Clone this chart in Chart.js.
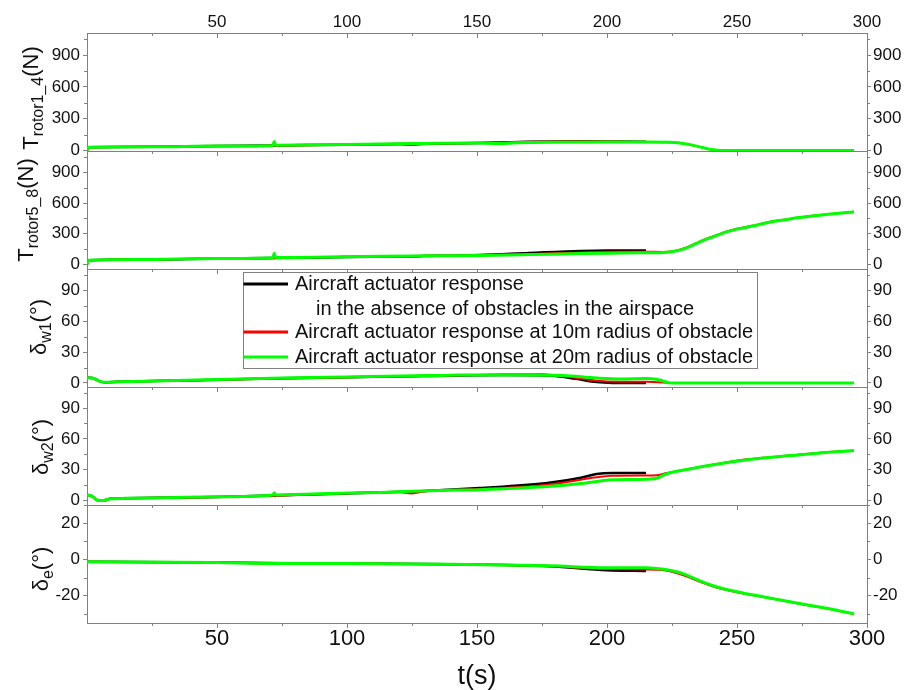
<!DOCTYPE html>
<html><head><meta charset="utf-8">
<script src="https://cdn.jsdelivr.net/npm/chart.js@4.4.1/dist/chart.umd.min.js"></script>
<style>html,body{margin:0;padding:0;background:#fff}canvas{display:block}</style>
</head><body>
<canvas id="c" width="907" height="690"></canvas>
<script>
// ---------- data ----------
const xTicks = [50, 100, 150, 200, 250, 300];
const xMinorTicks = [25, 75, 125, 175, 225, 275];
const rotorTicks = [0, 300, 600, 900];
const rotorMinor = [150, 450, 750, 1050];
const deltaWTicks = [0, 30, 60, 90];
const deltaWMinor = [15, 45, 75, 105];
const deltaETicks = [-20, 0, 20];
const deltaEMinor = [-30, -10, 10, 30];

const seriesLegend = [
  ['Aircraft actuator response', 'in the absence of obstacles in the airspace'],
  ['Aircraft actuator response at 10m radius of obstacle'],
  ['Aircraft actuator response at 20m radius of obstacle']
];

// T rotor1_4 (N)
const rotor14Black = [[0,0],[0.6,30],[10,32],[30,36],[50,42],[72,48],[100,55],[130,64],[150,70],[170,82],[190,86],[205,84],[215,82]];
const rotor14Red = [[0,0],[0.6,30],[10,32],[30,36],[50,40],[62,40],[70,46],[100,54],[120,58],[125,52],[130,62],[150,70],[165,80],[185,85],[200,84],[215,81],[224,77],[228,70],[232,55],[236,32],[239,14],[241.5,4],[244,0],[295,0]];
const rotor14Green = [[0,0],[0.6,30],[10,32],[30,36],[50,42],[71.5,48],[72,85],[72.5,50],[100,56],[113,62],[130,66],[150,70],[158,66],[165,72],[180,77],[200,79],[215,79],[224,77],[228,70],[232,55],[236,32],[239,14],[241.5,4],[244,0],[295,0]];

// T rotor5_8 (N)
const rotor58Black = [[0,0],[0.6,40],[20,47],[50,57],[72,62],[100,72],[130,82],[151,92],[170,112],[190,132],[200,137],[215,137]];
const rotor58Red = [[0,0],[0.6,40],[20,47],[50,56],[65,58],[80,68],[100,74],[125,72],[130,84],[151,88],[170,100],[190,117],[200,123],[215,124],[221,122],[226,132],[230,160],[234,205],[238,250],[241,276],[246,322],[250,348],[256,378],[262,412],[268,437],[274,460],[280,478],[287,497],[295,515]];
const rotor58Green = [[0,0],[0.6,40],[20,47],[50,57],[71.5,65],[72,110],[72.5,68],[100,75],[113,80],[130,84],[151,88],[170,96],[190,106],[205,111],[215,114],[222,117],[226,128],[230,155],[234,200],[238,245],[241,272],[246,318],[250,345],[256,375],[262,410],[268,435],[274,458],[280,476],[287,495],[295,513]];

// delta w1 (deg)
const deltaW1Black = [[0,5],[2,4.8],[5,1.5],[7,0.6],[12,1],[30,2],[50,3],[75,4.5],[100,5.6],[130,6.8],[160,7.6],[178,7.2],[188,4],[196,0.8],[202,0],[215,0]];
const deltaW1Red = [[0,5],[2,4.8],[5,1.5],[7,0.6],[12,1],[30,2],[50,3],[75,4.2],[100,5.6],[130,6.8],[160,8.2],[175,8.5],[185,6],[196,2.2],[205,1.2],[215,1],[222,0.3],[224,0],[295,0]];
const deltaW1Green = [[0,5],[2,4.8],[5,1.5],[7,0.6],[12,1],[30,2],[50,3.2],[75,4.8],[100,5.8],[132,7.1],[143,7.6],[170,7.8],[183,7.1],[196,4.8],[205,3.9],[215,4.3],[219,3.5],[222,1.5],[224.5,0],[295,0]];

// delta w2 (deg)
const deltaW2Black = [[0,5.5],[2,4],[4,0.2],[6,-0.2],[9,1.5],[15,2],[30,2.6],[50,3.3],[75,5],[100,6.8],[130,9.2],[151,12],[177,16.9],[190,22],[196,25.7],[202,26.7],[215,26.7]];
const deltaW2Red = [[0,5.5],[2,4],[4,0.2],[6,-0.2],[9,1.5],[15,2],[30,2.6],[50,3.3],[75,4.8],[100,7],[120,8.2],[125,6.8],[130,8.8],[151,11],[177,15.2],[190,20.2],[196,22.5],[202,24],[215,24.3],[219,24.5],[223,26.7],[228,29],[241,35],[254,40],[267,43],[280,46],[295,48.6]];
const deltaW2Green = [[0,5.5],[2,4],[4,0.2],[6,-0.2],[9,1.5],[15,2],[30,2.6],[50,3.5],[71.5,5.2],[72,7.5],[72.5,5.3],[100,7.2],[113,7.8],[125,8.8],[143,10],[151,10.4],[177,13.5],[190,16.5],[196,18.5],[202,20],[215,20.5],[219,21.5],[223,26],[228,28.9],[241,34.8],[254,39.6],[267,42.8],[280,45.8],[295,48.5]];

// delta e (deg)
const deltaEBlack = [[0,-1.3],[50,-1.7],[100,-2.3],[140,-2.7],[178,-3.8],[200,-5.9],[215,-6.3]];
const deltaERed = [[0,-1.3],[50,-1.7],[72,-2.2],[100,-2.2],[140,-2.6],[178,-3.6],[200,-5.3],[215,-5.5],[222,-6],[226,-7.2],[230,-9],[236,-12.5],[242,-15.4],[250,-18.1],[261,-20.9],[274,-24.4],[287,-27.7],[295,-30.1]];
const deltaEGreen = [[0,-1.3],[50,-1.7],[72,-2.2],[100,-2.2],[140,-2.6],[178,-3.5],[200,-4.5],[215,-4.5],[222,-5.4],[226,-6.5],[230,-8.2],[236,-11.9],[242,-15],[250,-17.8],[261,-20.8],[274,-24.3],[287,-27.6],[295,-30]];

// ---------- styling / layout ----------
const FONT = "'Liberation Sans', Arial, sans-serif";
const GRAY = '#808080';
const seriesColors = ['#000000', '#ff0000', '#00ff00'];
const seriesWidths = [2.5, 2, 3];

const panels = [
  {min: -5, max: 1110, major: rotorTicks, minor: rotorMinor, series: [rotor14Black, rotor14Red, rotor14Green], title: ['T', 'rotor1_4', '(N)'], tx: 37.5, ty: 98},
  {min: -45, max: 1110, major: rotorTicks, minor: rotorMinor, series: [rotor58Black, rotor58Red, rotor58Green], title: ['T', 'rotor5_8', '(N)'], tx: 33, ty: 210},
  {min: -4, max: 111, major: deltaWTicks, minor: deltaWMinor, series: [deltaW1Black, deltaW1Red, deltaW1Green], title: ['\u03b4', 'w1', '(\u00b0)'], tx: 46, ty: 327},
  {min: -4.5, max: 110.5, major: deltaWTicks, minor: deltaWMinor, series: [deltaW2Black, deltaW2Red, deltaW2Green], title: ['\u03b4', 'w2', '(\u00b0)'], tx: 47.5, ty: 447},
  {min: -35, max: 30, major: deltaETicks, minor: deltaEMinor, series: [deltaEBlack, deltaERed, deltaEGreen], title: ['\u03b4', 'e', '(\u00b0)'], tx: 48, ty: 569}
];

const datasets = [];
panels.forEach((p, i) => {
  p.series.forEach((s, k) => {
    datasets.push({
      data: s.map(([x, y]) => ({x, y})),
      yAxisID: 'yL' + (i + 1),
      borderColor: seriesColors[k],
      backgroundColor: seriesColors[k],
      borderWidth: seriesWidths[k],
      pointRadius: 0,
      fill: false,
      cubicInterpolationMode: 'monotone',
      order: 2 - k
    });
  });
});

const scales = {
  x: {
    type: 'linear', position: 'bottom', min: 0, max: 300,
    afterBuildTicks: s => { s.ticks = xTicks.map(v => ({value: v})); },
    grid: {display: false, drawTicks: false, tickLength: 0},
    border: {display: true, color: GRAY, width: 1},
    ticks: {font: {family: FONT, size: 22}, color: '#111', padding: 3, maxRotation: 0, autoSkip: false},
    title: {display: true, text: 't(s)', font: {family: FONT, size: 27, lineHeight: 1}, color: '#111', padding: {top: 0, bottom: 0}},
    afterFit: s => { s.height = 67; }
  },
  x2: {
    type: 'linear', position: 'top', min: 0, max: 300,
    afterBuildTicks: s => { s.ticks = xTicks.map(v => ({value: v})); },
    grid: {display: false, drawTicks: false, tickLength: 0},
    border: {display: true, color: GRAY, width: 1},
    ticks: {font: {family: FONT, size: 17}, color: '#111', padding: 0, maxRotation: 0, autoSkip: false},
    afterFit: s => { s.height = 33; }
  }
};
function yCommon(p) {
  return {
    type: 'linear', min: p.min, max: p.max, stackWeight: 1,
    afterBuildTicks: s => { s.ticks = p.major.map(v => ({value: v})); },
    grid: {display: true, drawOnChartArea: false, drawTicks: true, tickLength: 4, color: GRAY, tickColor: GRAY},
    border: {display: true, color: GRAY, width: 1}
  };
}
// left stack is laid out bottom-up in insertion order, so add it reversed
for (let i = panels.length - 1; i >= 0; i--) {
  scales['yL' + (i + 1)] = Object.assign(yCommon(panels[i]), {
    position: 'left', stack: 'L',
    ticks: {font: {family: FONT, size: 17}, color: '#111', padding: 3, autoSkip: false},
    afterFit: s => { s.width = 87; }
  });
}
panels.forEach((p, i) => {
  scales['yR' + (i + 1)] = Object.assign(yCommon(p), {
    position: 'right', stack: 'R',
    ticks: {font: {family: FONT, size: 17}, color: '#111', padding: 2, autoSkip: false},
    afterFit: s => { s.width = 40; }
  });
});

const decor = {
  id: 'decor',
  afterDraw(chart) {
    const ctx = chart.ctx, ca = chart.chartArea, xs = chart.scales.x;
    ctx.save();
    ctx.strokeStyle = GRAY;
    ctx.lineWidth = 1;
    const tops = panels.map((p, i) => chart.scales['yL' + (i + 1)].top);
    const bounds = tops.concat([ca.bottom]).sort((a, b) => a - b);
    ctx.beginPath();
    for (let i = 1; i < bounds.length - 1; i++) {
      const y = Math.round(bounds[i]) + 0.5;
      ctx.moveTo(ca.left, y); ctx.lineTo(ca.right, y);
    }
    // x ticks pointing down on every boundary
    bounds.forEach(b => {
      const y = Math.round(b);
      xTicks.forEach(v => { const x = Math.round(xs.getPixelForValue(v)) + 0.5; ctx.moveTo(x, y); ctx.lineTo(x, y + 5); });
      xMinorTicks.forEach(v => { const x = Math.round(xs.getPixelForValue(v)) + 0.5; ctx.moveTo(x, y); ctx.lineTo(x, y + 3); });
    });
    // minor y ticks
    panels.forEach((p, i) => {
      const sl = chart.scales['yL' + (i + 1)];
      p.minor.forEach(v => {
        const y = Math.round(sl.getPixelForValue(v)) + 0.5;
        ctx.moveTo(ca.left - 3, y); ctx.lineTo(ca.left, y);
        ctx.moveTo(ca.right, y); ctx.lineTo(ca.right + 3, y);
      });
    });
    ctx.stroke();

    // y titles with subscripts
    ctx.fillStyle = '#111';
    ctx.textAlign = 'left';
    ctx.textBaseline = 'alphabetic';
    panels.forEach(p => {
      const parts = [
        {t: p.title[0], f: '22px ' + FONT, dy: 0},
        {t: p.title[1], f: '16px ' + FONT, dy: 5},
        {t: p.title[2], f: '22px ' + FONT, dy: 0}
      ];
      let total = 0;
      parts.forEach(q => { ctx.font = q.f; q.w = ctx.measureText(q.t).width; total += q.w; });
      ctx.save();
      ctx.translate(p.tx, p.ty);
      ctx.rotate(-Math.PI / 2);
      let cx = -total / 2;
      parts.forEach(q => { ctx.font = q.f; ctx.fillText(q.t, cx, q.dy); cx += q.w; });
      ctx.restore();
    });

    // legend
    const lx = 243.5, ly = 272.5, lw = 514, lh = 96;
    ctx.fillStyle = '#fff';
    ctx.fillRect(lx, ly, lw, lh);
    ctx.strokeStyle = GRAY;
    ctx.lineWidth = 1;
    ctx.strokeRect(lx, ly, lw, lh);
    const rowY = [284, 332, 357];
    ctx.font = '20px ' + FONT;
    ctx.textBaseline = 'middle';
    seriesLegend.forEach((lines, k) => {
      ctx.strokeStyle = seriesColors[k];
      ctx.lineWidth = 3;
      ctx.beginPath();
      ctx.moveTo(lx, rowY[k]); ctx.lineTo(288, rowY[k]);
      ctx.stroke();
      ctx.fillStyle = '#111';
      ctx.fillText(lines[0], 295, rowY[k]);
      if (lines[1]) ctx.fillText(lines[1], 316, rowY[k] + 25);
    });
    ctx.restore();
  }
};

new Chart(document.getElementById('c'), {
  type: 'line',
  data: {datasets},
  options: {
    responsive: false,
    devicePixelRatio: 1,
    animation: false,
    layout: {padding: 0},
    plugins: {legend: {display: false}, tooltip: {enabled: false}},
    scales
  },
  plugins: [decor]
});
</script>
</body></html>
